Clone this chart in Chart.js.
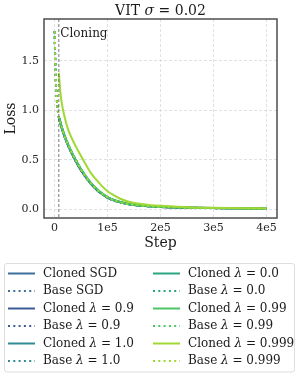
<!DOCTYPE html>
<html>
<head>
<meta charset="utf-8">
<script src="https://cdn.jsdelivr.net/npm/chart.js@4.4.1/dist/chart.umd.min.js"></script>
<style>
  html, body { margin: 0; padding: 0; background: #fff; }
  #chart { display: block; }
</style>
</head>
<body>
<canvas id="chart" width="299" height="377"></canvas>
<script>
// Series
const seriesLabels = [
  'Cloned SGD', 'Base SGD',
  'Cloned λ = 0.9', 'Base λ = 0.9',
  'Cloned λ = 1.0', 'Base λ = 1.0',
  'Cloned λ = 0.0', 'Base λ = 0.0',
  'Cloned λ = 0.99', 'Base λ = 0.99',
  'Cloned λ = 0.999', 'Base λ = 0.999'
];

const cloningStep = 8000;

const baseSteps = [0, 1000, 2000, 4000, 6000, 8000, 12000, 16000, 22000, 30000, 41000, 50000, 60000,
  70000, 80000, 90000, 100000, 120000, 140000, 160000, 200000, 250000, 300000, 350000, 400000];
const cloneSteps = [8000, 9000, 11000, 14000, 19000, 26000, 34000, 45000, 57000, 68000, 80000, 90000,
  100000, 112000, 124000, 140000, 160000, 200000, 250000, 300000, 350000, 400000];

const baseSgd = [1.80, 1.56, 1.36, 1.13, 1.00, 0.93, 0.85, 0.78, 0.69, 0.59, 0.48, 0.395, 0.315,
  0.25, 0.195, 0.152, 0.117, 0.072, 0.05, 0.037, 0.022, 0.014, 0.010, 0.008, 0.006];
const base09 = [1.80, 1.55, 1.35, 1.12, 1.00, 0.93, 0.85, 0.77, 0.69, 0.585, 0.475, 0.39, 0.31,
  0.246, 0.192, 0.15, 0.115, 0.071, 0.049, 0.036, 0.022, 0.014, 0.010, 0.008, 0.006];
const base10 = [1.80, 1.57, 1.37, 1.13, 1.01, 0.94, 0.86, 0.78, 0.70, 0.60, 0.49, 0.40, 0.32,
  0.255, 0.20, 0.156, 0.12, 0.074, 0.051, 0.038, 0.023, 0.015, 0.011, 0.008, 0.006];
const base00 = [1.80, 1.56, 1.36, 1.14, 1.01, 0.93, 0.86, 0.79, 0.70, 0.60, 0.485, 0.40, 0.32,
  0.253, 0.198, 0.155, 0.119, 0.073, 0.05, 0.037, 0.023, 0.015, 0.010, 0.008, 0.006];
const base099 = [1.80, 1.56, 1.36, 1.13, 1.00, 0.93, 0.86, 0.79, 0.705, 0.605, 0.495, 0.405, 0.325,
  0.258, 0.203, 0.159, 0.122, 0.075, 0.052, 0.038, 0.023, 0.015, 0.011, 0.008, 0.006];
const base0999 = [1.80, 1.56, 1.36, 1.13, 1.00, 0.93, 0.85, 0.78, 0.69, 0.595, 0.485, 0.398, 0.318,
  0.252, 0.197, 0.154, 0.118, 0.073, 0.05, 0.037, 0.022, 0.014, 0.010, 0.008, 0.006];

const clonedSgd = [0.93, 0.91, 0.87, 0.815, 0.735, 0.64, 0.55, 0.44, 0.34, 0.262, 0.195, 0.152,
  0.117, 0.09, 0.07, 0.05, 0.037, 0.022, 0.014, 0.010, 0.008, 0.006];
const cloned09 = [0.93, 0.91, 0.87, 0.81, 0.73, 0.635, 0.545, 0.435, 0.335, 0.258, 0.192, 0.15,
  0.115, 0.088, 0.069, 0.049, 0.036, 0.022, 0.014, 0.010, 0.008, 0.006];
const cloned10 = [0.94, 0.92, 0.88, 0.82, 0.74, 0.645, 0.555, 0.445, 0.345, 0.267, 0.20, 0.156,
  0.12, 0.092, 0.072, 0.051, 0.038, 0.023, 0.015, 0.011, 0.008, 0.006];
const cloned00 = [0.93, 0.91, 0.875, 0.82, 0.74, 0.645, 0.555, 0.445, 0.345, 0.265, 0.198, 0.155,
  0.119, 0.091, 0.071, 0.05, 0.037, 0.023, 0.015, 0.010, 0.008, 0.006];
const cloned099 = [0.93, 0.915, 0.88, 0.825, 0.745, 0.65, 0.56, 0.45, 0.35, 0.27, 0.203, 0.159,
  0.122, 0.094, 0.073, 0.052, 0.038, 0.023, 0.015, 0.011, 0.008, 0.006];
const cloned0999 = [1.38, 1.31, 1.18, 1.06, 0.93, 0.80, 0.70, 0.585, 0.47, 0.37, 0.29, 0.23,
  0.18, 0.14, 0.105, 0.075, 0.055, 0.033, 0.020, 0.013, 0.009, 0.007];

const xTickValues = [0, 100000, 200000, 300000, 400000];
const xTickLabels = ['0', '1e5', '2e5', '3e5', '4e5'];
const yTickValues = [0, 0.5, 1.0, 1.5];
const yTickLabels = ['0.0', '0.5', '1.0', '1.5'];

// Styles
const palette = ['#3e6e9c', '#3b5c99', '#2f8c96', '#2aa57f', '#4cc466', '#a0d834'];
const serif = "'DejaVu Serif', 'Liberation Serif', serif";

const seriesValues = [
  clonedSgd, baseSgd, cloned09, base09, cloned10, base10,
  cloned00, base00, cloned099, base099, cloned0999, base0999
];

const datasets = seriesValues.map((vals, i) => {
  const isBase = i % 2 === 1;
  const steps = isBase ? baseSteps : cloneSteps;
  return {
    label: seriesLabels[i],
    data: vals.map((v, j) => ({ x: steps[j], y: v })),
    borderColor: palette[Math.floor(i / 2)],
    borderWidth: 2,
    borderDash: isBase ? [2, 3.3] : [],
    showLine: true,
    pointRadius: 0,
    fill: false,
    cubicInterpolationMode: 'monotone',
    order: seriesValues.length - i
  };
});

function drawMixed(ctx, text, x, y, size, align, greek) {
  const parts = text.split(greek);
  const segs = [];
  parts.forEach((p, k) => {
    if (k > 0) segs.push({ t: greek, it: true });
    if (p) segs.push({ t: p, it: false });
  });
  let total = 0;
  segs.forEach(s => {
    ctx.font = (s.it ? 'italic ' : '') + size + 'px ' + serif;
    s.w = ctx.measureText(s.t).width;
    total += s.w;
  });
  let cx = align === 'center' ? x - total / 2 : x;
  ctx.textAlign = 'left';
  ctx.textBaseline = 'middle';
  segs.forEach(s => {
    ctx.font = (s.it ? 'italic ' : '') + size + 'px ' + serif;
    ctx.fillText(s.t, cx, y);
    cx += s.w;
  });
}

const decorations = {
  id: 'decorations',
  afterDatasetsDraw(chart) {
    const { ctx, chartArea: a, scales } = chart;
    const cx = scales.x.getPixelForValue(cloningStep);
    ctx.save();
    ctx.strokeStyle = '#555';
    ctx.lineWidth = 0.8;
    ctx.setLineDash([3, 2]);
    ctx.beginPath();
    ctx.moveTo(cx, a.top);
    ctx.lineTo(cx, a.bottom);
    ctx.stroke();
    ctx.setLineDash([]);
    ctx.fillStyle = '#222';
    ctx.font = '12px ' + serif;
    ctx.textAlign = 'left';
    ctx.textBaseline = 'middle';
    ctx.fillText('Cloning', cx + 1.5, scales.y.getPixelForValue(1.77));
    ctx.strokeStyle = '#4d4d4d';
    ctx.lineWidth = 1.5;
    ctx.strokeRect(a.left, a.top, a.right - a.left, a.bottom - a.top);
    ctx.restore();
  },
  afterDraw(chart) {
    const { ctx, chartArea: a } = chart;
    const midX = (a.left + a.right) / 2;
    ctx.save();
    ctx.fillStyle = '#1a1a1a';
    drawMixed(ctx, 'VIT σ = 0.02', midX, 11, 14, 'center', 'σ');
    ctx.font = '14px ' + serif;
    ctx.textAlign = 'center';
    ctx.textBaseline = 'middle';
    ctx.fillText('Step', midX, 243);
    ctx.translate(11, (a.top + a.bottom) / 2);
    ctx.rotate(-Math.PI / 2);
    ctx.fillText('Loss', 0, 0);
    ctx.restore();

    // legend, two columns
    ctx.save();
    ctx.fillStyle = '#fff';
    ctx.strokeStyle = '#dddddd';
    ctx.lineWidth = 1;
    ctx.beginPath();
    ctx.roundRect(4.5, 263.5, 290, 108.5, 2.5);
    ctx.fill();
    ctx.stroke();
    chart.data.datasets.forEach((ds, i) => {
      const col = Math.floor(i / 6);
      const row = i % 6;
      const y = 273.5 + row * 17.5;
      const x0 = col === 0 ? 8 : 153;
      ctx.strokeStyle = ds.borderColor;
      ctx.lineWidth = 2;
      ctx.setLineDash(ds.borderDash);
      ctx.beginPath();
      ctx.moveTo(x0, y);
      ctx.lineTo(x0 + 27, y);
      ctx.stroke();
      ctx.setLineDash([]);
      ctx.fillStyle = '#1a1a1a';
      drawMixed(ctx, ds.label, x0 + 35, y, 12, 'left', 'λ');
    });
    ctx.restore();
  }
};

const tickFont = { family: serif, size: 11 };

new Chart(document.getElementById('chart').getContext('2d'), {
  type: 'scatter',
  data: { datasets: datasets },
  options: {
    responsive: false,
    animation: false,
    layout: { padding: { left: 0, right: 22, top: 19, bottom: 0 } },
    plugins: { legend: { display: false }, tooltip: { enabled: false } },
    scales: {
      x: {
        type: 'linear',
        min: -20000,
        max: 420000,
        afterBuildTicks: s => { s.ticks = xTickValues.map(v => ({ value: v })); },
        afterFit: s => { s.height = 159; },
        ticks: {
          font: tickFont, color: '#262626', padding: 4, maxRotation: 0, autoSkip: false,
          callback: v => xTickLabels[xTickValues.indexOf(v)]
        },
        grid: { color: '#d9d9d9', lineWidth: 0.8, drawTicks: false },
        border: { display: false, dash: [3, 2] }
      },
      y: {
        type: 'linear',
        min: -0.09,
        max: 1.925,
        afterBuildTicks: s => { s.ticks = yTickValues.map(v => ({ value: v })); },
        afterFit: s => { s.width = 44; },
        ticks: {
          font: tickFont, color: '#262626', padding: 5, autoSkip: false,
          callback: v => yTickLabels[yTickValues.indexOf(v)]
        },
        grid: { color: '#d9d9d9', lineWidth: 0.8, drawTicks: false },
        border: { display: false, dash: [3, 2] }
      }
    }
  },
  plugins: [decorations]
});
</script>
</body>
</html>
